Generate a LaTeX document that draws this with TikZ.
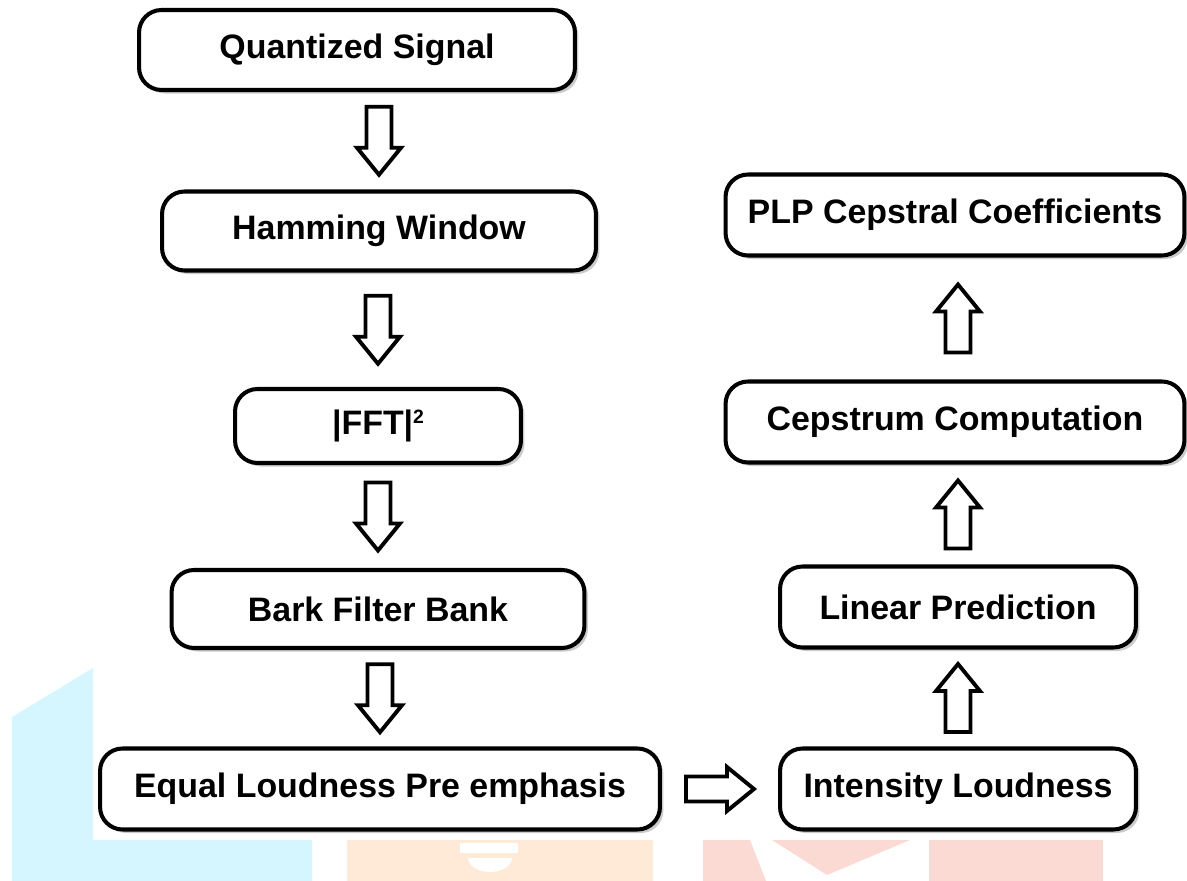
\documentclass[tikz,border=0pt]{standalone}
\usepackage{fontspec}
\setmainfont{Liberation Sans}
\usetikzlibrary{calc}
\usetikzlibrary{shadows}

\definecolor{wmcyan}{RGB}{214,246,255}
\definecolor{wmorange}{RGB}{255,234,216}
\definecolor{wmpink}{RGB}{252,218,212}

% block arrow sizes: half length, neck offset, half shaft, half head
\def\bahl{0.68cm}
\def\baneck{0.14cm}
\def\bash{0.25cm}
\def\bahd{0.44cm}

\begin{document}
\begin{tikzpicture}[x=0.02cm, y=-0.02cm,
  box/.style={draw, line width=2.3pt, rounded corners=0.45cm, fill=white,
    drop shadow={shadow xshift=2pt, shadow yshift=-2pt, fill=black!45, opacity=.45},
    font=\fontsize{19.3}{23}\selectfont\bfseries, inner sep=2pt},
  blockarrow/.style={draw, line width=2.2pt, fill=white, line join=miter,
    to path={
      ($(\tikztostart)!0.5!(\tikztotarget)!\bahl!(\tikztostart)!\bash!90:(\tikztotarget)$)
   -- ($(\tikztostart)!0.5!(\tikztotarget)!\baneck!(\tikztotarget)!\bash!90:(\tikztotarget)$)
   -- ($(\tikztostart)!0.5!(\tikztotarget)!\baneck!(\tikztotarget)!\bahd!90:(\tikztotarget)$)
   -- ($(\tikztostart)!0.5!(\tikztotarget)!\bahl!(\tikztotarget)$)
   -- ($(\tikztostart)!0.5!(\tikztotarget)!\baneck!(\tikztotarget)!\bahd!-90:(\tikztotarget)$)
   -- ($(\tikztostart)!0.5!(\tikztotarget)!\baneck!(\tikztotarget)!\bash!-90:(\tikztotarget)$)
   -- ($(\tikztostart)!0.5!(\tikztotarget)!\bahl!(\tikztostart)!\bash!-90:(\tikztotarget)$)
   -- cycle}}]
\useasboundingbox (0,0) rectangle (1187,881);

% faint watermark behind the chart
\fill[wmcyan] (12,717) -- (93,668) -- (93,840) -- (312,840) -- (312,881) -- (12,881) -- cycle;
\fill[wmorange] (347,840) rectangle (653,881);
\fill[white] (460,843) rectangle (518,853);
\fill[white] (468,858) -- (512,858) arc (0:180:22 and 14) -- cycle;
\fill[wmpink] (703,840) -- (750,840) -- (766,881) -- (703,881) -- cycle;
\fill[wmpink] (772,840) -- (910,840) -- (827,875) -- cycle;
\fill[wmpink] (929,840) rectangle (1103,881);

% left column
\node[box, minimum width=8.72cm, minimum height=1.6cm] (qs) at (357,50) {Quantized Signal};
\node[box, minimum width=8.68cm, minimum height=1.58cm] (hw) at (379,231) {Hamming Window};
\node[box, minimum width=5.72cm, minimum height=1.48cm] (fft) at (378,426) {\textbar FFT\textbar\raisebox{6pt}{\fontsize{11}{11}\selectfont 2}};
\node[box, minimum width=8.26cm, minimum height=1.56cm] (bfb) at (378,609) {Bark Filter Bank};
\node[box, minimum width=11.2cm, minimum height=1.62cm] (elpe) at (380,789) {Equal Loudness Pre emphasis};

% right column
\node[box, minimum width=7.12cm, minimum height=1.62cm] (il) at (958,789) {Intensity Loudness};
\node[box, minimum width=7.12cm, minimum height=1.62cm] (lp) at (958,607) {Linear Prediction};
\node[box, minimum width=9.18cm, minimum height=1.62cm] (cc) at (955,422) {Cepstrum Computation};
\node[box, minimum width=9.18cm, minimum height=1.62cm] (plp) at (955,215) {PLP Cepstral Coefficients};

% block arrows
\draw[blockarrow] (qs.south -| hw.north) to (hw.north);
\draw[blockarrow] (hw.south -| fft.north) to (fft.north);
\draw[blockarrow] (fft.south) to (bfb.north -| fft.south);
\draw[blockarrow] (bfb.south -| elpe.north) to (elpe.north);
\draw[blockarrow] (elpe.east) to (il.west);
\draw[blockarrow] (il.north) to (lp.south);
\draw[blockarrow] (lp.north) to (cc.south -| lp.north);
\draw[blockarrow] (cc.north -| lp.north) to (plp.south -| lp.north);
\end{tikzpicture}
\end{document}
